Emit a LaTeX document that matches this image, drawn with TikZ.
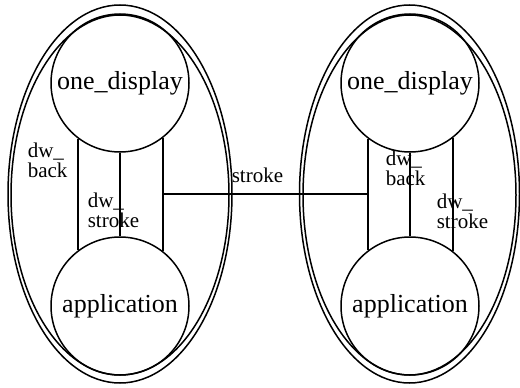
\documentclass[tikz,border=0pt]{standalone}
\usepackage{fontspec}
\setmainfont{Liberation Serif}
\usetikzlibrary{shapes.geometric}
\begin{document}
\begin{tikzpicture}[x=1pt,y=-1pt,line width=1.5pt,
  proc/.style={draw,circle,inner sep=0pt,minimum size=138pt,font=\fontsize{26}{30}\selectfont},
  outerell/.style={draw,ellipse,inner sep=0pt,minimum width=#1,minimum height=378pt},
  innerell/.style={draw,ellipse,inner sep=0pt,minimum width=#1,minimum height=360pt},
  lbl/.style={inner sep=0pt,anchor=north west,align=left,font=\fontsize{21}{19.5}\selectfont}]
\useasboundingbox (0,0) rectangle (520,388);
% left group
\node[outerell=224pt] (lo) at (120,194) {};
\node[innerell=218pt] (li) at (120,195) {};
\node[proc] (lt) at (120,83) {one\_display};
\node[proc] (lb) at (120,306) {application};
% right group
\node[outerell=220pt] (ro) at (409.5,194) {};
\node[innerell=213pt] (ri) at (409.5,195) {};
\node[proc] (rt) at (410,83) {one\_display};
\node[proc] (rb) at (410,306) {application};
% connectors
\draw (lt.-127.5) -- (lb.127.5);
\draw (lt.south) -- (lb.north);
\draw (lt.-52.5) -- (lb.52.5);
\draw (rt.-127.5) -- (rb.127.5);
\draw (rt.south) -- (rb.north);
\draw (rt.-52.5) -- (rb.52.5);
\coordinate (mid) at (0,194);
\coordinate (ja) at (lt.-52.5 |- mid);
\coordinate (jb) at (rt.-127.5 |- mid);
\draw (ja) -- (jb);
% labels
\node[lbl] (l1) at (27,142.5) {dw\_\\back};
\node[lbl] (l2) at (87,192.5) {dw\_\\stroke};
\node[lbl] (r1) at (385,150.5) {dw\_\\back};
\node[lbl] (r2) at (436,193.5) {dw\_\\stroke};
\node[lbl] (s) at (231,167.5) {stroke};
\end{tikzpicture}
\end{document}
